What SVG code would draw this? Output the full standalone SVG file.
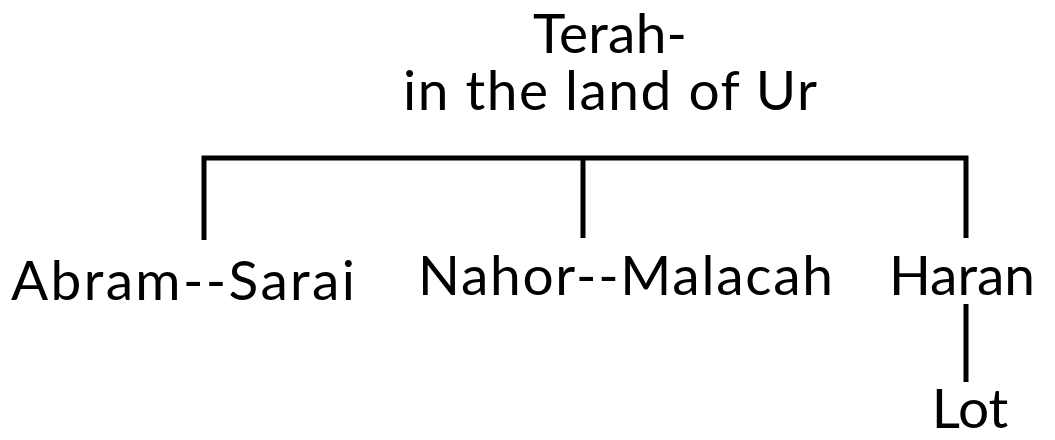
<svg xmlns="http://www.w3.org/2000/svg" width="1055" height="440" viewBox="0 0 1055 440">
  <style>
    .lbl { font-family: Lato, "Liberation Sans", sans-serif; font-size: 55px; fill: #000; }
    .link { stroke: #000; stroke-width: 5; fill: none; stroke-linecap: butt; }
  </style>
  <rect width="1055" height="440" fill="#fff"/>

  <!-- family links -->
  <g id="connectors">
    <path class="link" d="M204 240 V158 H966 V238"/>
    <path class="link" d="M583 158 V238"/>
    <path class="link" d="M966 304 V382"/>
  </g>

  <g id="terah">
    <text class="lbl" x="610" y="53" text-anchor="middle" textLength="154">Terah-</text>
    <text class="lbl" x="610" y="110" text-anchor="middle" textLength="414">in the land of Ur</text>
  </g>
  <g id="abram-sarai">
    <text class="lbl" x="11" y="300" textLength="344">Abram--Sarai</text>
  </g>
  <g id="nahor-malacah">
    <text class="lbl" x="418" y="295" textLength="415">Nahor--Malacah</text>
  </g>
  <g id="haran">
    <text class="lbl" x="1035" y="295" text-anchor="end">Haran</text>
  </g>
  <g id="lot">
    <text class="lbl" x="970" y="428" text-anchor="middle">Lot</text>
  </g>
</svg>
